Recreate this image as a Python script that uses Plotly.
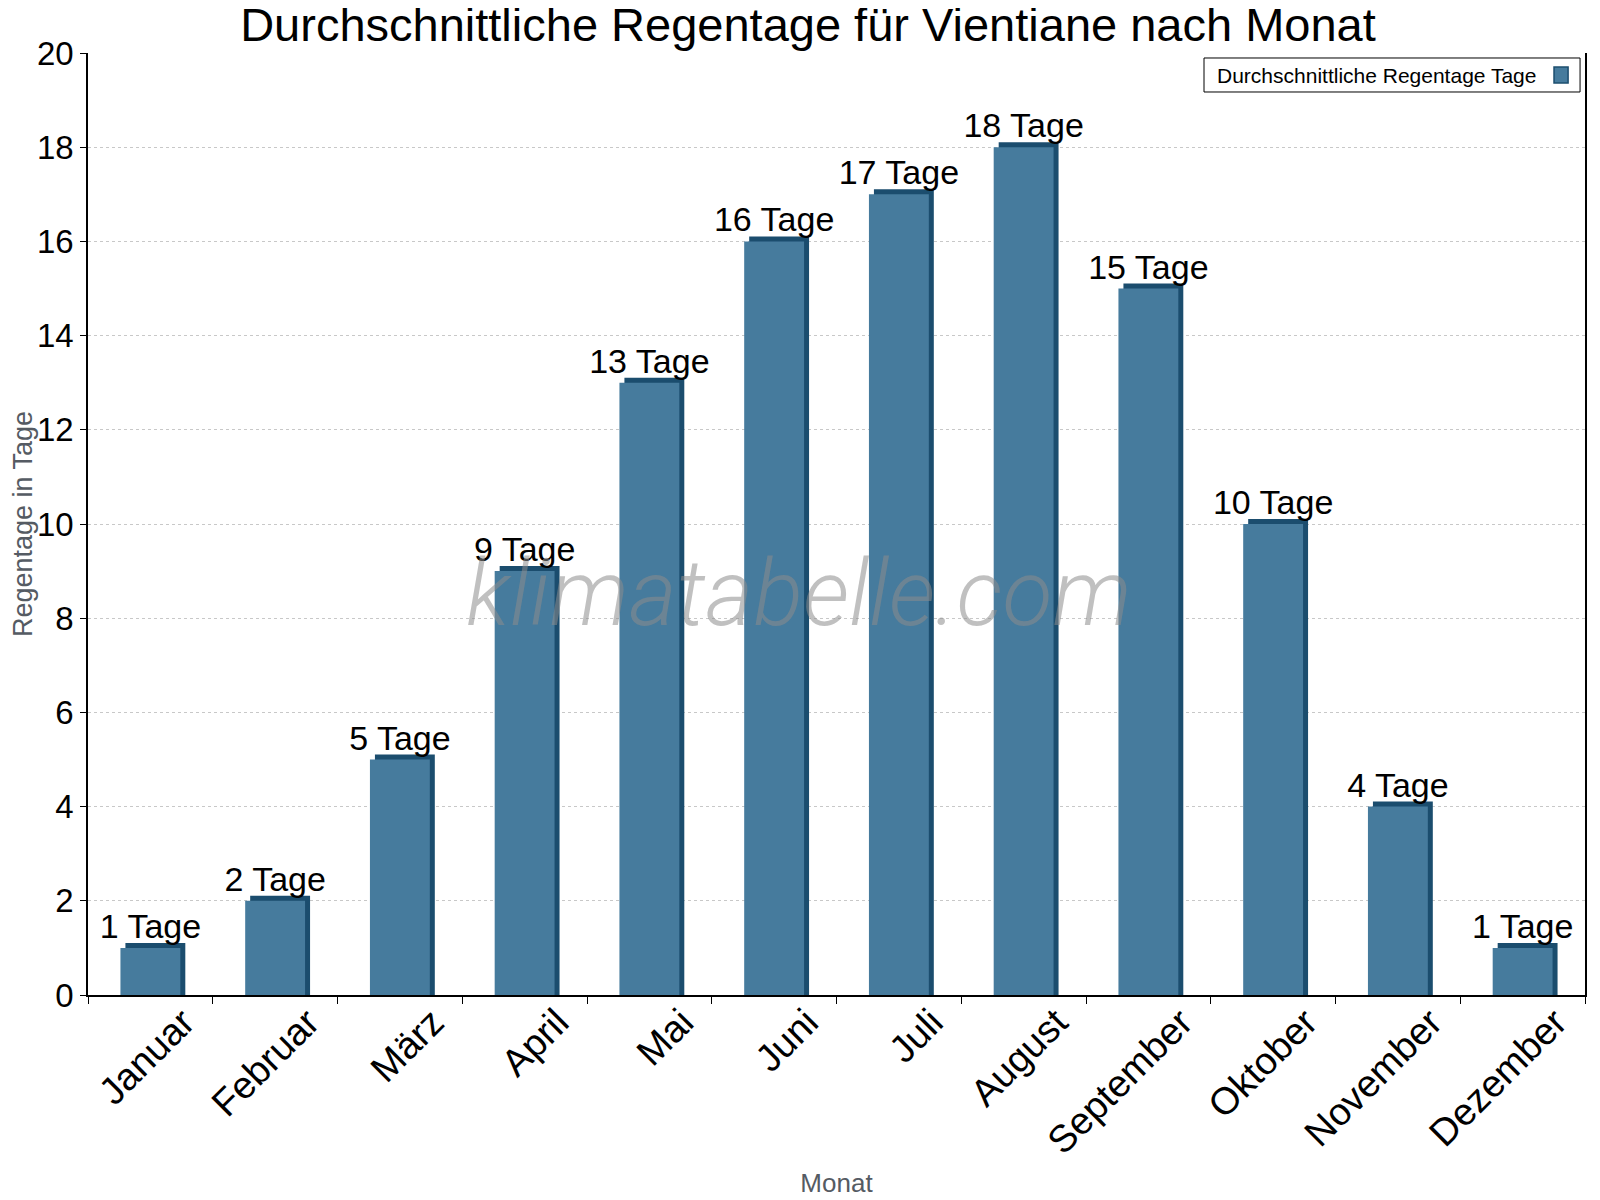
import plotly.graph_objects as go

months = ["Januar", "Februar", "März", "April", "Mai", "Juni", "Juli",
          "August", "September", "Oktober", "November", "Dezember"]
rain_days = [1, 2, 5, 9, 13, 16, 17, 18, 15, 10, 4, 1]
labels = [f"{v} Tage" for v in rain_days]

FRONT = "#467b9d"
SIDE = "#1b4d6e"
FONT = "Liberation Sans, Arial, sans-serif"
depth = 0.106  # ~5px fake 3D depth in y units

fig = go.Figure()

# dark "side/top" face, shifted right and up
fig.add_trace(go.Bar(
    x=months, y=[v + depth for v in rain_days],
    width=0.48, offset=-0.20,
    marker=dict(color=SIDE, line=dict(width=0)),
    hoverinfo="skip", showlegend=False,
))
# front face, carries the value labels
fig.add_trace(go.Bar(
    x=months, y=rain_days,
    width=0.48, offset=-0.24,
    marker=dict(color=FRONT, line=dict(width=0)),
    text=labels, textposition="outside", constraintext="none",
    textfont=dict(size=34, color="black", family=FONT),
    cliponaxis=False,
    name="Durchschnittliche Regentage Tage", showlegend=False,
))

# legend box (symbol on the right like the original)
fig.add_shape(type="rect", xref="paper", yref="paper",
              x0=0.7455, x1=0.9967, y0=0.9586, y1=0.9947,
              line=dict(color="black", width=1), fillcolor="white", layer="above")
fig.add_shape(type="rect", xref="paper", yref="paper",
              x0=0.9793, x1=0.9887, y0=0.9682, y1=0.9851,
              line=dict(color=SIDE, width=1.5), fillcolor=FRONT, layer="above")
fig.add_annotation(text="Durchschnittliche Regentage Tage", xref="paper", yref="paper",
                   x=0.7528, y=0.9766, xanchor="left", yanchor="middle",
                   showarrow=False, font=dict(size=21, color="black", family=FONT))

# watermark
fig.add_annotation(text="<i>klimatabelle.com</i>", xref="paper", yref="paper",
                   x=0.475, y=0.426, xanchor="center", yanchor="middle",
                   showarrow=False,
                   font=dict(size=92, color="rgba(140,140,140,0.55)", weight=300,
                             family="Roboto, Liberation Sans, Arial"))

fig.update_layout(
    width=1600, height=1200,
    margin=dict(l=80, r=23, t=45, b=213),
    plot_bgcolor="white", paper_bgcolor="white",
    barmode="overlay",
    font=dict(family=FONT, color="black"),
    title=dict(text="Durchschnittliche Regentage für Vientiane nach Monat",
               x=0.5, xanchor="center", y=1.0, yanchor="top", pad=dict(t=0),
               font=dict(size=47, color="black", family=FONT)),
    xaxis=dict(
        title=dict(text="Monat", font=dict(size=26, color="#555b63"), standoff=13),
        tickangle=-45, tickfont=dict(size=38, color="black"),
        ticklabelshift=33, ticklabelstandoff=-12,
        showline=True, linecolor="black", linewidth=1.5,
        ticks="outside", ticklen=7, tickcolor="black", tickson="boundaries",
        showgrid=False, automargin=False,
    ),
    yaxis=dict(
        title=dict(text="Regentage in Tage", font=dict(size=27, color="#555b63"), standoff=10),
        range=[0, 20], dtick=2, tickfont=dict(size=33, color="black"),
        showline=True, linecolor="black", linewidth=1.5, mirror=True,
        ticks="outside", ticklen=6, tickcolor="black",
        showgrid=True, gridcolor="#c8c8c8", griddash="dot", gridwidth=1,
        zeroline=False, automargin=False,
    ),
)

fig.write_html("out.html")
